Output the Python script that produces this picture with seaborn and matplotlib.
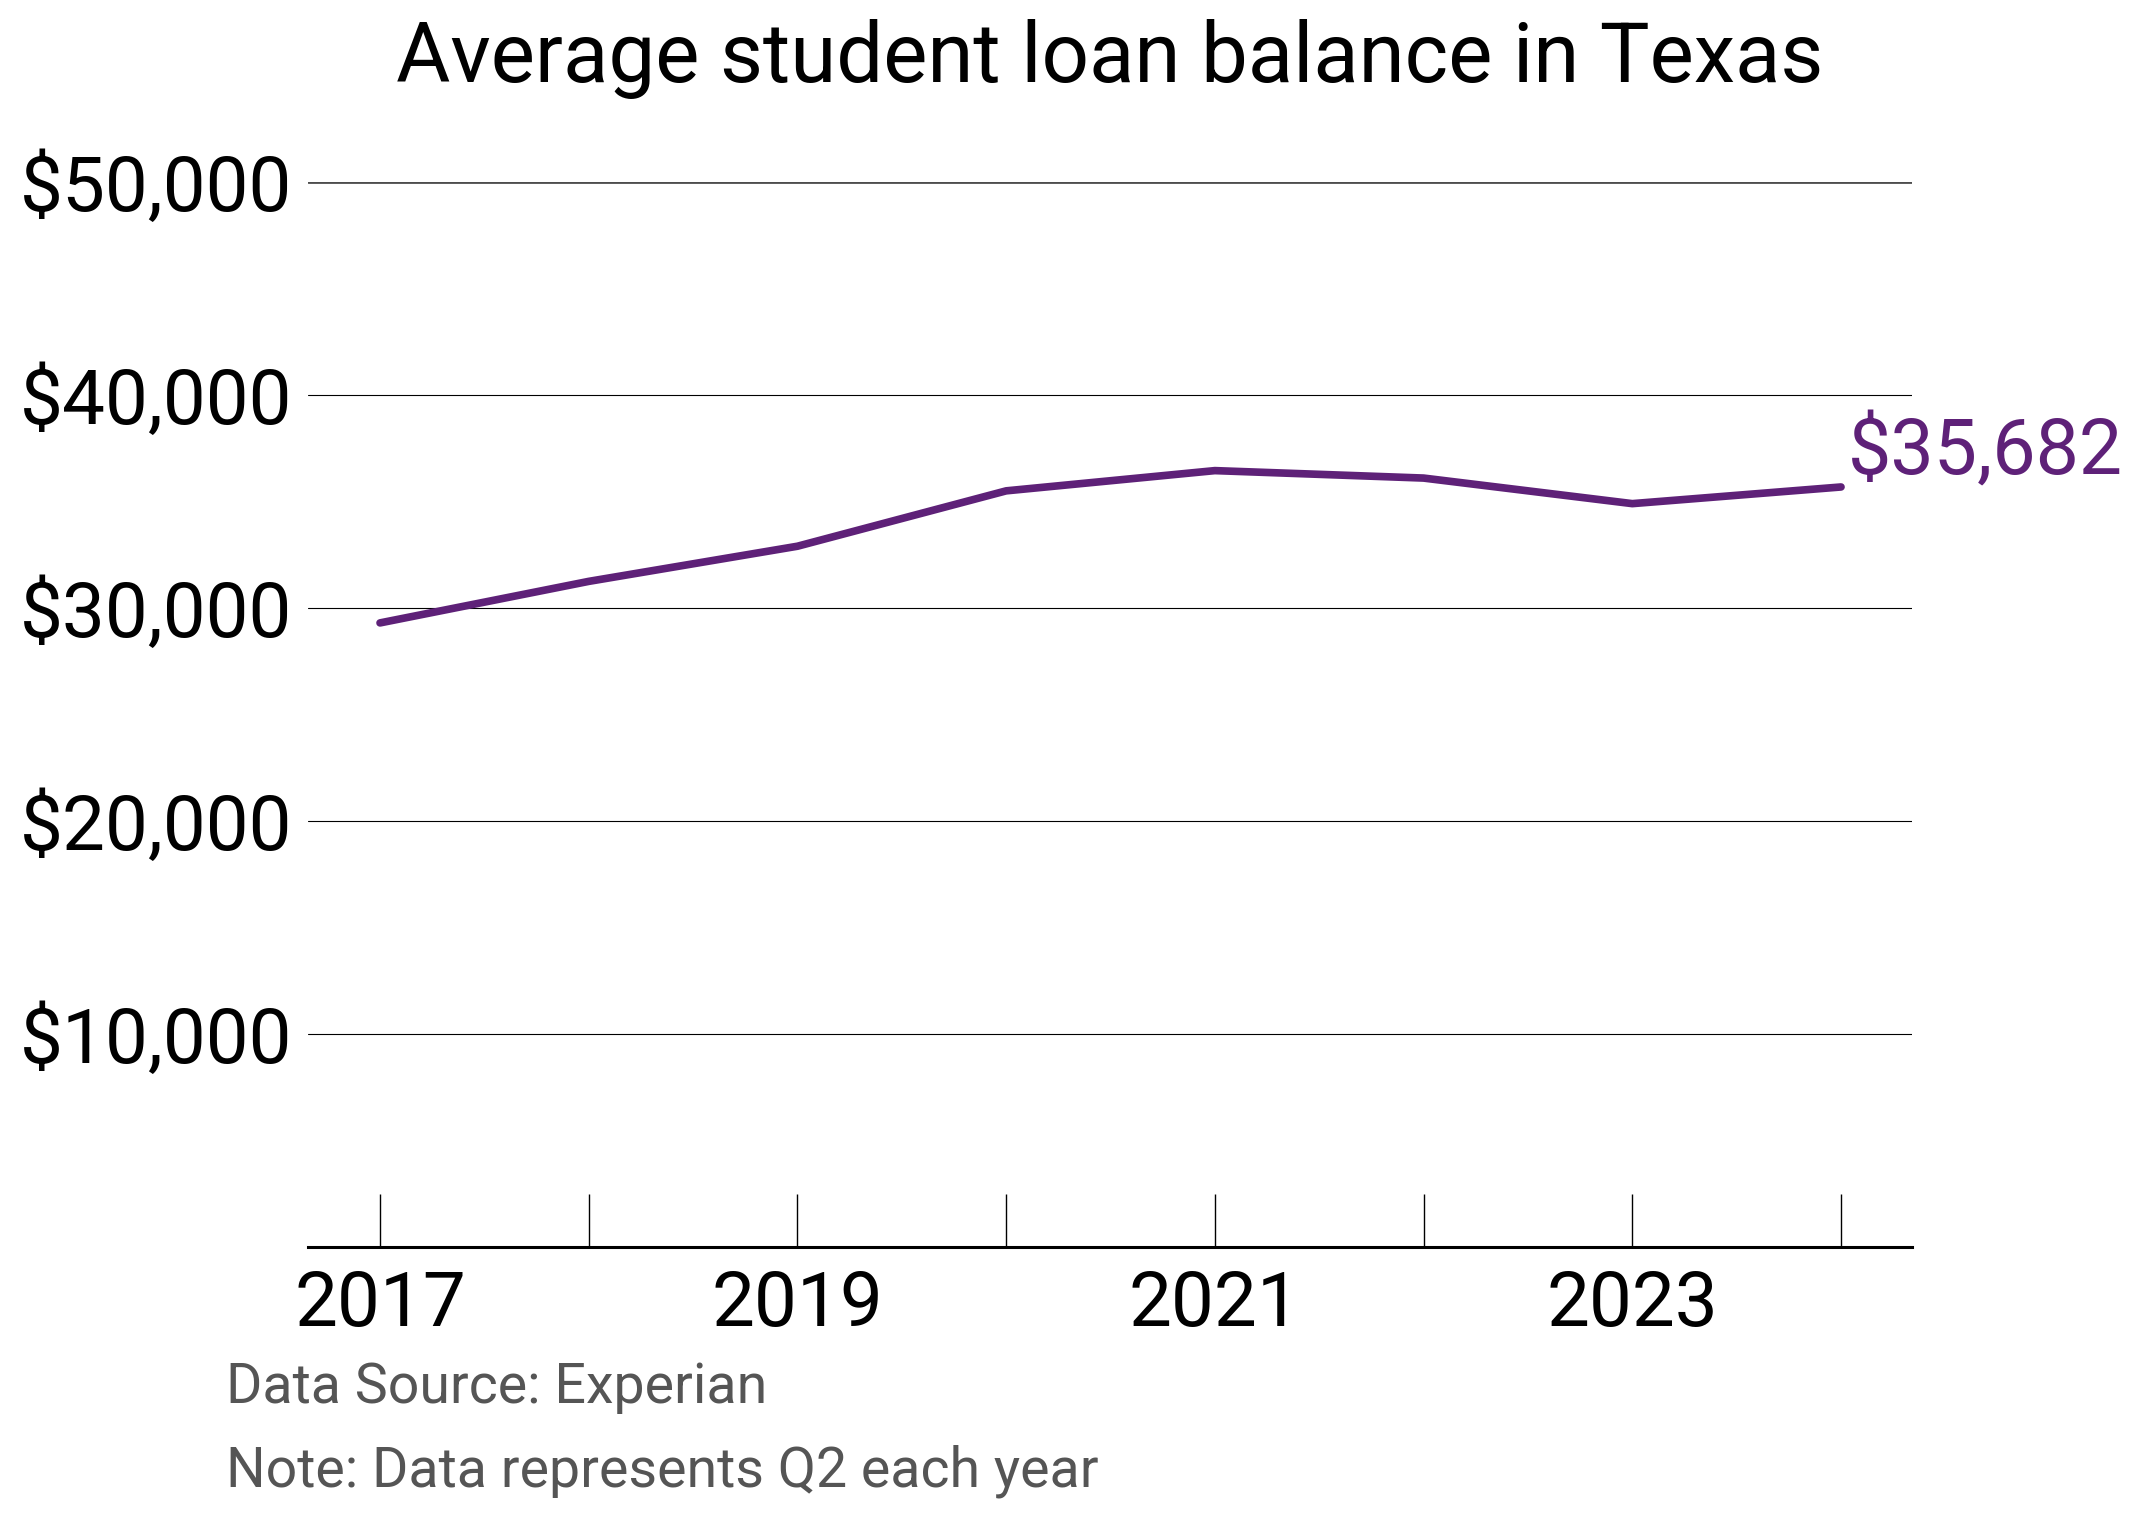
import numpy as np
import pandas as pd
import seaborn as sns
import matplotlib.pyplot as plt

# data (Q2 of each year)
years = [2017, 2018, 2019, 2020, 2021, 2022, 2023, 2024]
balance = [29300, 31250, 32900, 35500, 36450, 36100, 34900, 35682]
y_ticks = [10000, 20000, 30000, 40000, 50000]
x_labels = [2017, 2019, 2021, 2023]

purple = "#5e2178"

sns.set_style("white")
plt.rcParams["font.family"] = ["Roboto", "DejaVu Sans"]

df = pd.DataFrame({"year": years, "balance": balance})

fig = plt.figure(figsize=(21.41, 15.18), dpi=100)
ax = fig.add_axes([308 / 2141, 1 - 1247 / 1518, (1912 - 308) / 2141, (1247 - 182) / 1518])

sns.lineplot(data=df, x="year", y="balance", ax=ax, color=purple,
             linewidth=5.5, solid_capstyle="round")

ax.set_xlim(2016.655, 2024.34)
ax.set_ylim(0, 50000)

ax.set_yticks(y_ticks)
ax.set_yticklabels([f"${v:,.0f}" for v in y_ticks])
ax.set_xticks(years)
ax.set_xticklabels([str(y) if y in x_labels else "" for y in years])

ax.tick_params(axis="y", left=False, length=0, pad=11, labelsize=55,
               labelcolor="black")
ax.tick_params(axis="x", bottom=True, direction="in", length=38, width=1,
               color="black", pad=16, labelsize=55, labelcolor="black")

ax.yaxis.grid(True, color="black", linewidth=0.8)
ax.xaxis.grid(False)
grid = ax.get_ygridlines()
grid[-1].set_color("#4d4d4d")
grid[-1].set_linewidth(2)

for s in ["top", "left", "right"]:
    ax.spines[s].set_visible(False)
ax.spines["bottom"].set_color("black")
ax.spines["bottom"].set_linewidth(2.2)

ax.set_xlabel("")
ax.set_ylabel("")

ax.annotate(f"${balance[-1]:,.0f}", xy=(years[-1], balance[-1]),
            xytext=(5, 9.5), textcoords="offset points",
            ha="left", va="baseline", fontsize=55.5, color=purple,
            annotation_clip=False)

fig.text((308 + 1912) / 2 / 2141, 1 - 82 / 1518, "Average student loan balance in Texas",
         ha="center", va="baseline", fontsize=60, color="black")
fig.text(226 / 2141, 1 - 1403 / 1518, "Data Source: Experian",
         ha="left", va="baseline", fontsize=40, color="#555555")
fig.text(226 / 2141, 1 - 1487 / 1518, "Note: Data represents Q2 each year",
         ha="left", va="baseline", fontsize=40, color="#555555")

fig.savefig("out.png", dpi=100)
